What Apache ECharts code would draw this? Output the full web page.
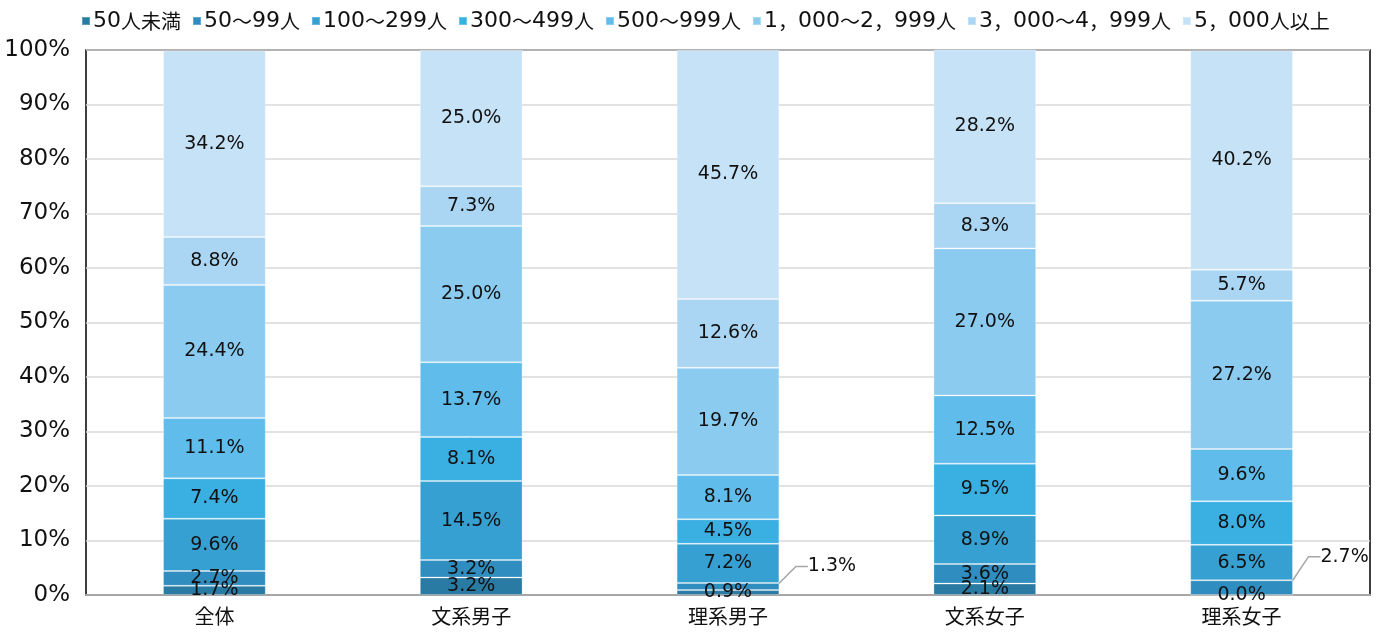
<!DOCTYPE html>
<html>
<head>
<meta charset="utf-8">
<script src="https://cdn.jsdelivr.net/npm/echarts@6/dist/echarts.min.js"></script>
<style>
  html, body { margin: 0; padding: 0; background: #fff; }
  #chart { width: 1381px; height: 637px; }
</style>
</head>
<body>
<div id="chart"></div>
<script>
// categories on the x axis
const categories = ["全体", "文系男子", "理系男子", "文系女子", "理系女子"];

// company size groups (series), small to large
const sizeNames = [
  "50人未満", "50～99人", "100～299人", "300～499人",
  "500～999人", "1，000～2，999人", "3，000～4，999人", "5，000人以上"
];

// values per size group, one value per category (%)
const under50 = [1.7, 3.2, 0.9, 2.1, 0.0];
const s50to99 = [2.7, 3.2, 1.3, 3.6, 2.7];
const s100to299 = [9.6, 14.5, 7.2, 8.9, 6.5];
const s300to499 = [7.4, 8.1, 4.5, 9.5, 8.0];
const s500to999 = [11.1, 13.7, 8.1, 12.5, 9.6];
const s1000to2999 = [24.4, 25.0, 19.7, 27.0, 27.2];
const s3000to4999 = [8.8, 7.3, 12.6, 8.3, 5.7];
const over5000 = [34.2, 25.0, 45.7, 28.2, 40.2];

const seriesValues = [under50, s50to99, s100to299, s300to499, s500to999, s1000to2999, s3000to4999, over5000];

const colors = ["#2a7ba4", "#2f8dbf", "#36a0d2", "#3aafe2", "#60bdeb", "#8ccbf0", "#abd6f3", "#c6e2f6"];

// labels that are pulled out to the right with a leader line: [seriesIndex, dataIndex, dx, dy]
const calloutLabels = [[1, 2, 104, -20], [1, 4, 103, -31]];

const fontFamily = "'DejaVu Sans', 'Noto Sans CJK JP', sans-serif";
const cjkFont = "'Noto Sans CJK JP', sans-serif";

const chart = echarts.init(document.getElementById("chart"));

// legend names: digits in a wide latin face, the rest in the CJK face
function legendText(name) {
  return name.split(/(\d+)/).filter(s => s).map(s => /^\d+$/.test(s) ? "{d|" + s + "}" : "{c|" + s + "}").join("");
}

const series = sizeNames.map((name, i) => ({
  name: name,
  type: "bar",
  stack: "total",
  barWidth: "40%",
  itemStyle: {
    color: colors[i],
    borderColor: "rgba(255,255,255,0.25)",
    borderWidth: 1
  },
  label: {
    show: true,
    position: "inside",
    color: "#111",
    fontSize: 19,
    fontFamily: fontFamily,
    formatter: (p) => p.value.toFixed(1) + "%"
  },
  labelLine: {
    show: true,
    length2: 12,
    lineStyle: { color: "#a6a6a6", width: 1.5 }
  },
  labelLayout: (params) => {
    const c = calloutLabels.find(a => a[0] === params.seriesIndex && a[1] === params.dataIndex);
    if (c) {
      return { dx: c[2], dy: c[3] };
    }
    return {};
  },
  emphasis: { disabled: true },
  data: seriesValues[i]
}));

chart.setOption({
  animation: false,
  color: colors,
  textStyle: { fontFamily: fontFamily },
  legend: {
    top: 5,
    left: 76,
    icon: "rect",
    itemWidth: 8,
    itemHeight: 8,
    itemGap: 11,
    formatter: legendText,
    textStyle: {
      color: "#111",
      padding: [0, 0, 0, -2],
      rich: {
        d: { fontSize: 22, fontFamily: "'DejaVu Sans', sans-serif", color: "#111" },
        c: { fontSize: 20, fontFamily: cjkFont, color: "#111" }
      }
    },
    data: sizeNames
  },
  grid: {
    left: 86,
    right: 11,
    top: 50,
    bottom: 42,
    show: true,
    borderColor: "#000",
    borderWidth: 1.5
  },
  xAxis: {
    type: "category",
    data: categories,
    axisTick: { show: false },
    axisLine: { lineStyle: { color: "#a6a6a6", width: 2 } },
    axisLabel: { fontSize: 20, color: "#111", fontFamily: cjkFont, margin: 11 }
  },
  yAxis: {
    type: "value",
    min: 0,
    max: 100,
    interval: 10,
    axisLine: { show: false },
    axisTick: { show: false },
    splitLine: { lineStyle: { color: "#d9d9d9", width: 1.5 } },
    axisLabel: {
      fontSize: 23,
      color: "#111",
      margin: 16,
      formatter: (v) => v + "%"
    }
  },
  series: series
});
</script>
</body>
</html>
